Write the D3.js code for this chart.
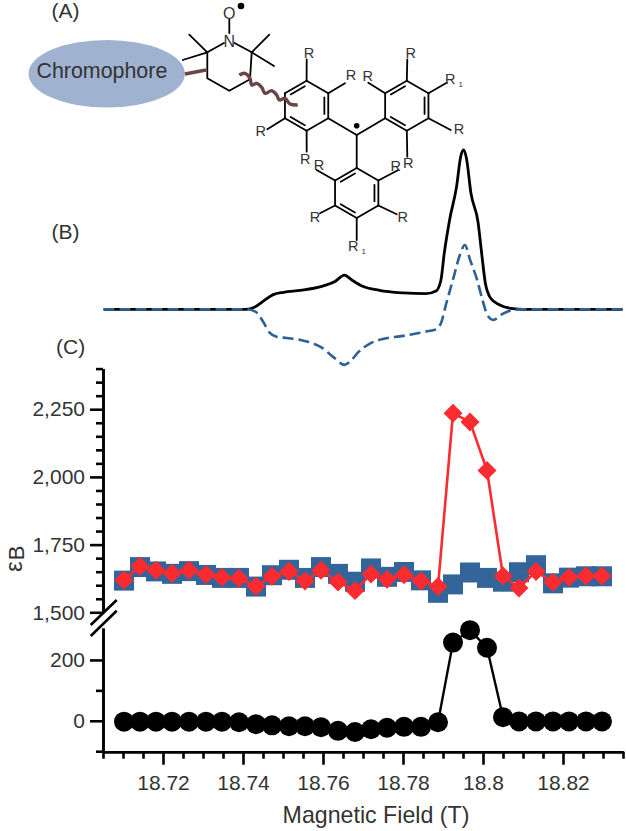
<!DOCTYPE html>
<html>
<head>
<meta charset="utf-8">
<script src="https://cdn.jsdelivr.net/npm/d3@7"></script>
<style>
  html, body { margin: 0; padding: 0; background: #fff; }
  svg { display: block; }
  text { font-family: "Liberation Sans", Arial, sans-serif; fill: #333; }
</style>
</head>
<body>
<div id="chart-area"></div>
<script>
// measured data, panel (C)
var field = [18.71025,18.71425,18.71825,18.72225,18.7265,18.73075,18.73475,18.739,18.74325,18.74725,
             18.7515,18.7555,18.7595,18.76375,18.768,18.772,18.776,18.78025,18.7845,18.78875,
             18.7925,18.79675,18.801,18.805,18.809,18.81325,18.8175,18.8215,18.82575,18.82975];
var eps_red = [1619,1670,1655,1644,1655,1640,1629,1626,1596,1633,1651,1616,1655,1612,1580,
               1641,1622,1639,1616,1595,2235,2203,2024,1634,1590,1651,1611,1629,1634,1634];
var eps_blue = [1617,1667,1651,1642,1652,1638,1627,1627,1595,1637,1657,1627,1667,1642,1613,
                1662,1631,1649,1618,1572,1603,1647,1627,1613,1648,1674,1607,1628,1633,1633];
var eps_black = [-3,-3,-3,-3,-3,-3,-3,-5,-11,-15,-18,-18,-21,-33,-37,
                 -28,-23,-20,-20,-5,257,298,240,12,-2,-2,-2,-2,-2,-2];

// panel (B) spectra
var spec_x = [18.70514,18.74069,18.74285,18.745,18.74757,18.75014,18.75435,18.75949,18.76298,18.76535,18.7672,
              18.76976,18.77408,18.78004,18.78569,18.78826,18.78949,18.79031,18.79165,18.79339,18.79442,18.79514,
              18.79586,18.79699,18.79874,18.79976,18.80059,18.80192,18.80408,18.80747,18.81004,18.8349];
var spec_y = [0,0,.013,.05,.092,.107,.119,.142,.174,.215,.184,.146,.119,.103,.098,.115,.184,.351,.561,
              .77,.958,1,.948,.728,.55,.331,.163,.069,.029,.004,0,0];
var diff_x = [18.70514,18.7411,18.74326,18.745,18.74665,18.74839,18.75096,18.75435,18.75949,18.76298,18.76535,
              18.76678,18.76894,18.77151,18.77408,18.78004,18.78569,18.78826,18.78949,18.79083,18.79247,18.79422,
              18.79545,18.79678,18.79853,18.79976,18.8011,18.80254,18.8049,18.80747,18.81004,18.8349];
var diff_y = [0,0,-.017,-.077,-.146,-.172,-.18,-.192,-.238,-.308,-.349,-.328,-.266,-.218,-.192,-.167,
              -.14,-.126,-.088,.038,.184,.341,.404,.31,.184,.069,-.036,-.067,-.029,-.004,0,0];

var x_major = [18.72,18.74,18.76,18.78,18.8,18.82];
var x_minor = [18.705,18.71,18.715,18.725,18.73,18.735,18.745,18.75,18.755,18.765,18.77,18.775,
               18.785,18.79,18.795,18.805,18.81,18.815,18.825,18.83,18.835];
var y_up_major = [1500,1750,2000,2250];
var y_up_minor = [1550,1600,1650,1700,1800,1850,1900,1950,2050,2100,2150,2200,2300,2350,2400];
var y_low_major = [0,200];
var y_low_minor = [-100,100];

var total_width = 626, total_height = 831;
var svg = d3.select('#chart-area').append('svg')
            .attr("width",total_width)
            .attr("height",total_height);

var x = d3.scaleLinear().domain([18.705,18.835]).range([103,623]);
var y_up = d3.scaleLinear().domain([1500,2400]).range([612.3,368.6]);
var y_low = d3.scaleLinear().domain([-100,305]).range([751.2,628]);
var y_spec = d3.scaleLinear().domain([0,1]).range([309.3,150]);

// ---- panel C
function style_axis(g){
  g.selectAll("path,line").attr("stroke","#000").attr("stroke-width",2.6);
  g.selectAll("text").style("font-size","21px").attr("fill","#333");
}
function y_axis(scale, major, minor, fmt){
  var g = svg.append("g").attr("transform","translate(103,0)");
  g.append("g").call(d3.axisLeft(scale).tickValues(major).tickSize(13).tickSizeOuter(0).tickPadding(5).tickFormat(fmt)).call(style_axis);
  g.append("g").call(d3.axisLeft(scale).tickValues(minor).tickSize(7).tickSizeOuter(0).tickFormat("")).call(style_axis);
}
y_axis(y_up, y_up_major, y_up_minor, d3.format(","));
y_axis(y_low, y_low_major, y_low_minor, d3.format("d"));

var x_g = svg.append("g").attr("transform","translate(0,751.7)");
x_g.append("g").call(d3.axisBottom(x).tickValues(x_major).tickSize(13).tickSizeOuter(0).tickPadding(10).tickFormat(d3.format("~r"))).call(style_axis);
x_g.append("g").call(d3.axisBottom(x).tickValues(x_minor).tickSize(7).tickSizeOuter(0).tickFormat("")).call(style_axis);

// axis break
svg.selectAll(".brk").data([[625,600],[636,610.7]]).enter().append("line")
   .attr("x1",90.7).attr("x2",116.7)
   .attr("y1",d=>d[0]).attr("y2",d=>d[1])
   .attr("stroke","#000").attr("stroke-width",2.6);

svg.append("text").attr("x",376).attr("y",822.5).style("text-anchor","middle").style("font-size","23.2px").text("Magnetic Field (T)");

var ylab = svg.append("text").attr("transform","translate(22,572) rotate(-90)");
ylab.append("tspan").style("font-size","24px").text("ε");
ylab.append("tspan").attr("dy",2).attr("dx",1).style("font-size","22px").text("B");

// blue squares
svg.append("g").selectAll("path").data(eps_blue).enter().append("path")
   .attr("d",d3.symbol().type(d3.symbolSquare).size(400))
   .attr("transform",(d,i)=>"translate("+x(field[i])+","+y_up(d)+")")
   .attr("fill","#33659b");

// red line + diamonds
var red_line = d3.line().x((d,i)=>x(field[i])).y(d=>y_up(d));
svg.append("path").attr("d",red_line(eps_red)).attr("fill","none").attr("stroke","#fb2b30").attr("stroke-width",2.6);
svg.append("g").selectAll("path").data(eps_red).enter().append("path")
   .attr("d",d3.symbol().type(d3.symbolSquare).size(180))
   .attr("transform",(d,i)=>"translate("+x(field[i])+","+y_up(d)+") rotate(45)")
   .attr("fill","#fb2b30");

// black line + circles
var black_line = d3.line().x((d,i)=>x(field[i])).y(d=>y_low(d));
svg.append("path").attr("d",black_line(eps_black)).attr("fill","none").attr("stroke","#000").attr("stroke-width",2.4);
svg.append("g").selectAll("circle").data(eps_black).enter().append("circle")
   .attr("cx",(d,i)=>x(field[i])).attr("cy",d=>y_low(d)).attr("r",10).attr("fill","#000");

// ---- panel B
var spec_line = d3.line().curve(d3.curveMonotoneX).x(d=>x(d[0])).y(d=>y_spec(d[1]));
svg.append("path").attr("d",spec_line(d3.zip(spec_x,spec_y))).attr("fill","none").attr("stroke","#000").attr("stroke-width",2.8);
svg.append("path").attr("d",spec_line(d3.zip(diff_x,diff_y))).attr("fill","none").attr("stroke","#2c6096")
   .attr("stroke-width",2.6).attr("stroke-dasharray","11,5");

// ---- panel labels
var panels = [["(A)",51.5,18],["(B)",51.5,239],["(C)",56,354]];
svg.selectAll(".panel").data(panels).enter().append("text")
   .attr("x",d=>d[1]).attr("y",d=>d[2]).style("font-size","21px").text(d=>d[0]);

// ---- panel A, molecule
svg.append("ellipse").attr("cx",106.7).attr("cy",73.7).attr("rx",78.2).attr("ry",33.8).attr("fill","#9fb2d0");
svg.append("text").attr("x",36.5).attr("y",77.5).style("font-size","21.4px").text("Chromophore");

var mol = svg.append("g").attr("stroke","#000").attr("stroke-width",1.8).attr("fill","none").attr("stroke-linecap","round");
function bond(a,b){ mol.append("line").attr("x1",a[0]).attr("y1",a[1]).attr("x2",b[0]).attr("y2",b[1]); }
function label(t,px,py,sub){
  var s = svg.append("text").attr("x",px).attr("y",py+5).style("font-size","14.5px").style("text-anchor","middle").text(t);
  if(sub) s.append("tspan").attr("dy",3).attr("dx",3).style("font-size","8px").text(sub);
}
// ring with double bonds on the edges top-UL, right and bottom-LL
function ring(cx,cy){
  var v = d3.range(6).map(i=>{
    var a = -Math.PI/2 + i*Math.PI/3;
    return [cx+25*Math.cos(a), cy+25*Math.sin(a)];
  });
  v.forEach((p,i)=>{
    var q = v[(i+1)%6];
    bond(p,q);
    if(i%2==1){
      var k = 0.82, m = 0.1;
      var p2 = [cx+(p[0]-cx)*k, cy+(p[1]-cy)*k], q2 = [cx+(q[0]-cx)*k, cy+(q[1]-cy)*k];
      bond([p2[0]+(q2[0]-p2[0])*m,p2[1]+(q2[1]-p2[1])*m],[q2[0]-(q2[0]-p2[0])*m,q2[1]-(q2[1]-p2[1])*m]);
    }
  });
  return v;
}
var r1 = ring(306.6,105.7), r2 = ring(406.8,105.7), r3 = ring(356.7,193);
var center = [356.7,135];
bond(r1[2],center); bond(r2[4],center); bond(r3[0],center);
svg.append("circle").attr("cx",356.7).attr("cy",125.7).attr("r",2.8).attr("fill","#000");

// substituents: ring, vertex index, bond tip, label position, label sub
var subs = [
  [r1,0,[306.7,59.3],[309,53]],[r1,1,[345,83.3],[351,75]],[r1,4,[267.3,129.3],[260.7,131]],[r1,3,[306.7,151.7],[305.3,159.3]],
  [r2,0,[407.3,59.3],[410.7,53.3]],[r2,1,[446.7,82.7],[454,79],"1"],[r2,2,[450.7,130],[459,129.3]],[r2,3,[407.3,156.7],[408.3,162.7]],[r2,5,[368.3,82.7],[367.7,75.7]],
  [r3,5,[316.7,170],[319,165]],[r3,1,[398.3,170],[395.7,165.7]],[r3,4,[320,213.3],[315,216.7]],[r3,2,[396.7,214.3],[402.7,217.3]],[r3,3,[356.7,240],[357,245.7],"1"]
];
subs.forEach(s=>{ bond(s[0][s[1]],s[2]); label("R",s[3][0],s[3][1],s[4]); });

// piperidine ring
var pip = [[251.7,52.3],[250,79.3],[229.3,90.7],[207.3,78.3],[207.3,52.3]];
mol.append("path").attr("d",d3.line()(pip));
bond([207.3,52.3],[224,43]); bond([251.7,52.3],[234.5,43]);
bond([229.3,19.5],[229.3,33]);
bond([207.3,52.3],[189.3,34.7]); bond([207.3,52.3],[182.7,60]);
bond([251.7,52.3],[269.3,34.7]); bond([251.7,52.3],[274,66]);
svg.append("text").attr("x",229.3).attr("y",46.5).style("font-size","16px").style("text-anchor","middle").text("N");
svg.append("text").attr("x",229.3).attr("y",19).style("font-size","16px").style("text-anchor","middle").text("O");
svg.append("circle").attr("cx",241).attr("cy",6).attr("r",3.3).attr("fill","#000");

// wavy linkers
var wave = [[239.3,75],[245,73.3],[250,78.3],[251.7,85],[256.7,83.3],[261.7,87.3],[265,93.3],[271.7,90.7],[276.7,95],[279.3,100],[285,98.3],[290,104],[297.7,105]];
svg.append("path").attr("d",d3.line().curve(d3.curveCatmullRom)(wave)).attr("fill","none").attr("stroke","#6b4445").attr("stroke-width",3.4);
svg.append("path").attr("d",d3.line()([[185,74],[206,70]])).attr("fill","none").attr("stroke","#6b4445").attr("stroke-width",3.4);
</script>
</body>
</html>
